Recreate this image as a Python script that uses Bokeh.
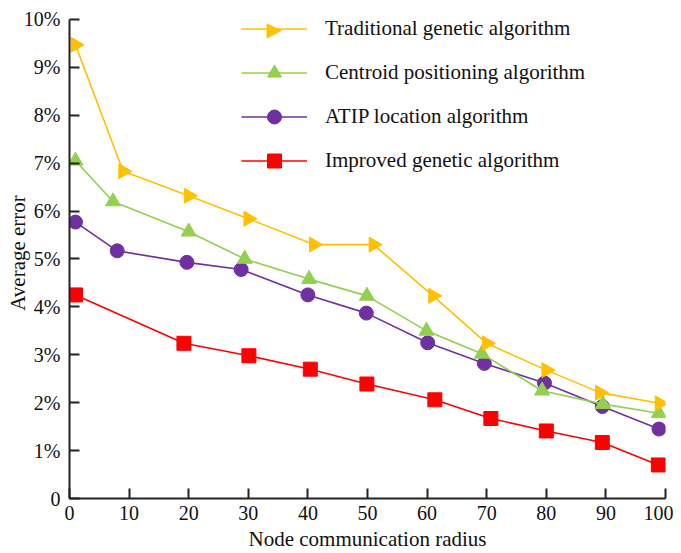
import math
from bokeh.plotting import figure
from bokeh.models import (FixedTicker, Legend, LegendItem, Range1d,
                          ColumnDataSource, Label)
from bokeh.embed import file_html
from bokeh.resources import INLINE

# ---- data ----
trad_x = [1, 9, 20, 30, 41, 51, 61, 70, 80, 89, 99]
trad_y = [9.47, 6.83, 6.32, 5.84, 5.30, 5.30, 4.23, 3.24, 2.68, 2.21, 1.99]

cent_x = [1, 7.3, 20, 29.4, 40.2, 49.9, 59.9, 69.2, 79.3, 89.5, 98.9]
cent_y = [7.05, 6.20, 5.57, 5.00, 4.58, 4.23, 3.50, 3.02, 2.25, 1.97, 1.78]

atip_x = [1, 8, 19.7, 28.8, 40, 49.8, 60.1, 69.6, 79.7, 89.4, 98.9]
atip_y = [5.77, 5.17, 4.93, 4.78, 4.25, 3.87, 3.25, 2.82, 2.41, 1.92, 1.45]

impr_x = [1, 19.2, 30.1, 40.4, 49.9, 61.3, 70.7, 80, 89.4, 98.8]
impr_y = [4.25, 3.24, 2.98, 2.70, 2.39, 2.06, 1.67, 1.41, 1.17, 0.70]

x_ticks = [0, 10, 20, 30, 40, 50, 60, 70, 80, 90, 100]
y_ticks = [0, 1, 2, 3, 4, 5, 6, 7, 8, 9, 10]
y_tick_labels = ["0", "1%", "2%", "3%", "4%", "5%", "6%", "7%", "8%", "9%", "10%"]

labels = ["Traditional genetic algorithm", "Centroid positioning algorithm",
          "ATIP location algorithm", "Improved genetic algorithm"]

FONT = "Liberation Serif"
C_YEL = "#FFC000"
C_GRN = "#92D050"
C_PUR = "#7030A0"
C_RED = "#FF0000"

p = figure(width=673, height=553, output_backend="svg", toolbar_location=None,
           x_range=Range1d(0, 100), y_range=Range1d(0, 10.25),
           min_border_left=69, min_border_right=8, min_border_top=7,
           min_border_bottom=55)
p.outline_line_color = None
p.xgrid.visible = False
p.ygrid.visible = False

LW = 1.6
r_line = p.line(impr_x, impr_y, color=C_RED, line_width=LW)
r_mk = p.scatter(impr_x, impr_y, marker="square", size=14, color=C_RED)
p_line = p.line(atip_x, atip_y, color=C_PUR, line_width=LW)
p_mk = p.scatter(atip_x, atip_y, marker="circle", size=14, color=C_PUR)
g_line = p.line(cent_x, cent_y, color=C_GRN, line_width=LW)
g_mk = p.scatter(cent_x, cent_y, marker="triangle", size=15, color=C_GRN)
y_line = p.line(trad_x, trad_y, color=C_YEL, line_width=LW)
trad_src = ColumnDataSource(dict(x=trad_x, y=trad_y,
                                 ang=[-math.pi / 2] * len(trad_x)))
y_mk = p.scatter("x", "y", source=trad_src, marker="triangle", size=15,
                 color=C_YEL, angle="ang", angle_units="rad")

for ax in (p.xaxis, p.yaxis):
    ax.axis_line_color = "#222222"
    ax.axis_line_width = 2
    ax.major_tick_line_color = "#222222"
    ax.major_tick_line_width = 2
    ax.major_tick_in = 10
    ax.major_tick_out = 0
    ax.minor_tick_line_color = None
    ax.major_label_text_font = FONT
    ax.major_label_text_font_size = "20px"
    ax.major_label_text_color = "#111111"
    ax.axis_label_text_font = FONT
    ax.axis_label_text_font_size = "21px"
    ax.axis_label_text_font_style = "normal"
    ax.axis_label_text_color = "#111111"

p.xaxis.ticker = FixedTicker(ticks=x_ticks)
p.yaxis.ticker = FixedTicker(ticks=y_ticks)
p.yaxis.bounds = (0, 10)
p.yaxis.major_label_overrides = {t: l for t, l in zip(y_ticks, y_tick_labels)}
p.xaxis.major_label_standoff = 7
p.yaxis.major_label_standoff = 9
p.xaxis.axis_label = "Node communication radius"
p.yaxis.axis_label = "Average error"
p.xaxis.axis_label_standoff = 4
p.yaxis.axis_label_standoff = -9

# legend layout
LEG_X, LEG_Y = 172, 320
GW, GH, SP = 66, 35, 9
n_items = len(labels)
leg_h = n_items * GH + (n_items - 1) * SP

legend = Legend(items=[
    LegendItem(label=labels[0], renderers=[y_line]),
    LegendItem(label=labels[1], renderers=[g_line, g_mk]),
    LegendItem(label=labels[2], renderers=[p_line, p_mk]),
    LegendItem(label=labels[3], renderers=[r_line, r_mk]),
], location=(LEG_X, LEG_Y))
legend.background_fill_alpha = 0
legend.border_line_color = None
legend.padding = 0
legend.margin = 0
legend.spacing = SP
legend.glyph_width = GW
legend.glyph_height = GH
legend.label_height = GH
legend.label_standoff = 18
legend.label_text_font = FONT
legend.label_text_font_size = "21px"
legend.label_text_color = "#111111"
p.add_layout(legend, "center")

# right-pointing marker for the first legend entry
p.add_layout(Label(x=LEG_X + GW / 2, y=LEG_Y + leg_h - GH / 2,
                   x_units="screen", y_units="screen", text="\u25B6",
                   text_align="center", text_baseline="middle",
                   text_color=C_YEL, text_font="DejaVu Sans",
                   text_font_size="20px"))

open("out.html", "w").write(file_html(p, INLINE))
